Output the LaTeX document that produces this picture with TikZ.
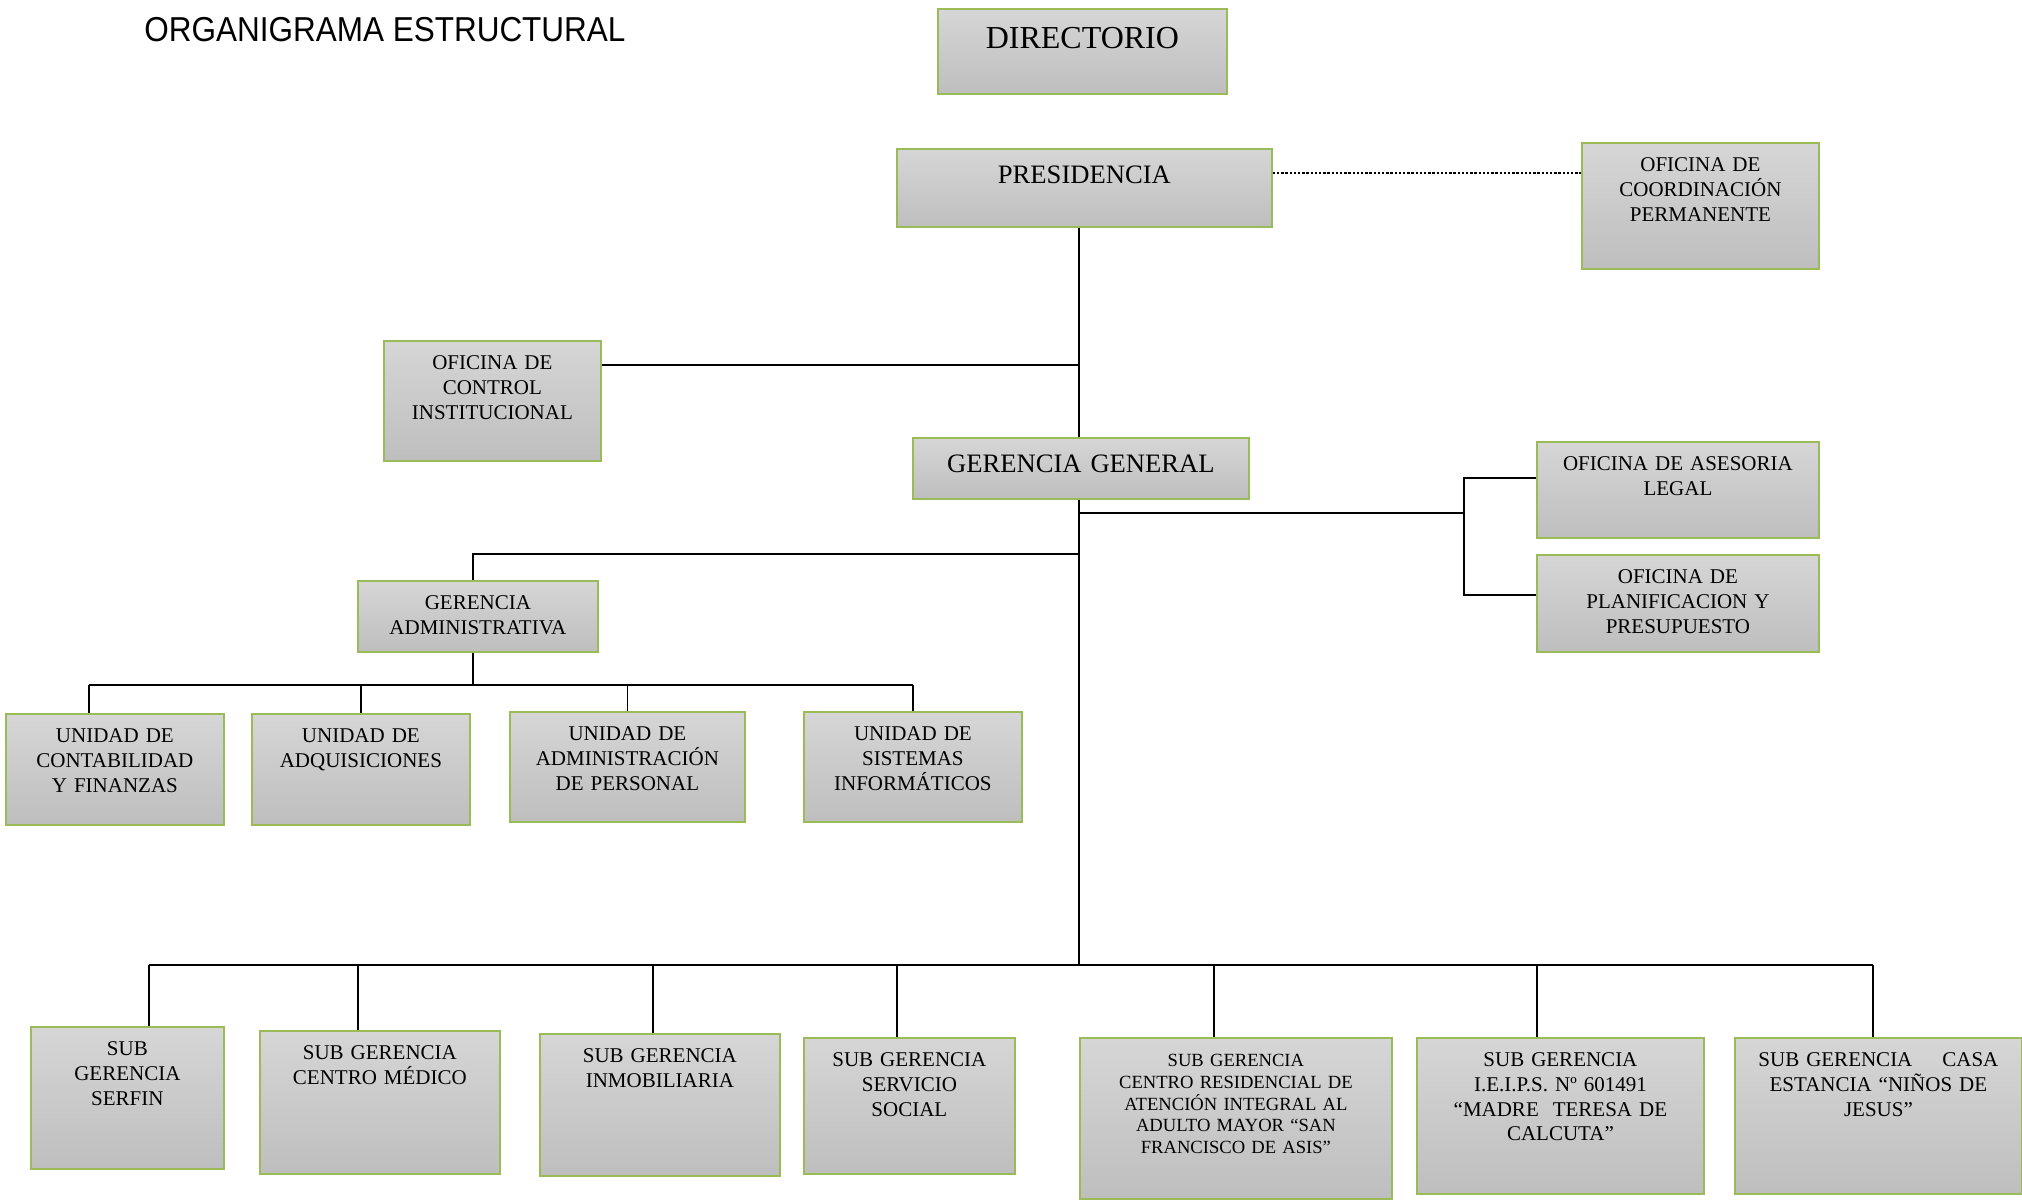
\documentclass[tikz,border=0pt]{standalone}
\usepackage{fontspec}
\setmainfont{Liberation Serif}
\newfontfamily\titulofuente[FakeStretch=0.91]{Liberation Sans}
\usepackage{tikz}

\definecolor{verdeborde}{HTML}{9BBB59}
\definecolor{grisclaro}{HTML}{D6D6D6}
\definecolor{grisoscuro}{HTML}{BEBEBE}

\tikzset{
	cajabase/.style={draw=verdeborde, line width=0.9pt, top color=grisclaro, bottom color=grisoscuro,
		anchor=north west, inner xsep=0pt, inner ysep=3pt, align=center},
	caja/.style 2 args={cajabase, font=\fontsize{10.5}{12.3}\selectfont, text width=#1*0.5pt,
		text height=11.5pt, text depth=#2*0.5pt-17.5pt},
	cajamayor/.style 2 args={cajabase, font=\fontsize{13.3}{16}\selectfont, text width=#1*0.5pt,
		text height=14.5pt, text depth=#2*0.5pt-20.5pt},
	linea/.style={line width=0.8pt},
	bus/.style={line width=1.2pt},
	punteado/.style={line width=1.2pt, dash pattern=on 1.2pt off 0.9pt}
}

\begin{document}
\begin{tikzpicture}[x=0.5pt, y=-0.5pt]
	\useasboundingbox (0,0) rectangle (2022,1200);

	\node[anchor=west, inner sep=0pt, font=\titulofuente\fontsize{17.3}{20}\selectfont] (titulo) at (144,30) {ORGANIGRAMA ESTRUCTURAL};

	% direccion
	\node[cajamayor={289}{85}, font=\fontsize{16}{19}\selectfont, text height=16.9pt, text depth=19.6pt] (dir) at (937,8) {DIRECTORIO};
	\node[cajamayor={375}{78}] (pres) at (896,148)   {PRESIDENCIA};
	\node[caja={237}{126}] (coord) at (1581,142)     {OFICINA DE\\COORDINACIÓN\\PERMANENTE};
	\node[caja={217}{120}] (control) at (383,340)    {OFICINA DE\\CONTROL\\INSTITUCIONAL};
	\node[cajamayor={336}{61}] (gg) at (912,437)     {GERENCIA GENERAL};
	\node[caja={282}{96}] (legal) at (1536,441)      {OFICINA DE ASESORIA\\LEGAL};
	\node[caja={282}{97}] (planif) at (1536,554)     {OFICINA DE\\PLANIFICACION Y\\PRESUPUESTO};

	% gerencia administrativa
	\node[caja={240}{71}] (ga) at (357,580)          {GERENCIA\\ADMINISTRATIVA};
	\node[caja={218}{111}] (cont) at (5,713)         {UNIDAD DE\\CONTABILIDAD\\Y FINANZAS};
	\node[caja={218}{111}] (adq) at (251,713)        {UNIDAD DE\\ADQUISICIONES};
	\node[caja={235}{110}] (pers) at (509,711)       {UNIDAD DE\\ADMINISTRACIÓN\\DE PERSONAL};
	\node[caja={218}{110}] (sist) at (803,711)       {UNIDAD DE\\SISTEMAS\\INFORMÁTICOS};

	% sub gerencias
	\node[caja={193}{142}] (serfin) at (30,1026)     {SUB\\GERENCIA\\SERFIN};
	\node[caja={240}{143}] (cmed) at (259,1030)      {SUB GERENCIA\\CENTRO MÉDICO};
	\node[caja={240}{142}] (inmob) at (539,1033)     {SUB GERENCIA\\INMOBILIARIA};
	\node[caja={211}{136}] (serv) at (803,1037)      {SUB GERENCIA\\SERVICIO\\SOCIAL};
	\node[caja={312}{161}, font=\fontsize{9.3}{10.8}\selectfont] (cres) at (1079,1037) {SUB GERENCIA\\CENTRO RESIDENCIAL DE\\ATENCIÓN INTEGRAL AL\\ADULTO MAYOR “SAN\\FRANCISCO DE ASIS”};
	\node[caja={287}{156}] (ieips) at (1416,1037)    {SUB GERENCIA\\I.E.I.P.S. Nº 601491\\“MADRE\ \ TERESA DE\\CALCUTA”};
	\node[caja={287}{156}] (casa) at (1734,1037)     {SUB GERENCIA\hspace{15pt}CASA\\ESTANCIA “NIÑOS DE\\JESUS”};

	\coordinate (tronco) at (1079,965);
	\coordinate (ramader) at (1464,513);
	\coordinate (ramaizq) at (1079,554);
	\coordinate (busuni) at (0,685);

	% tronco
	\draw[linea] (pres.south -| tronco) -- (gg.north -| tronco);
	\draw[linea] (gg.south -| tronco) -- (tronco);
	\draw[punteado] ([yshift=7.5pt]pres.east) -- ([yshift=7.5pt]pres.east -| coord.west);
	\draw[linea] ([yshift=18pt]control.east) -- ([yshift=18pt]control.east -| tronco);
	\draw[linea] (ramader -| tronco) -- (ramader);
	\draw[linea] ([yshift=6pt]legal.west) -| (ramader) |- ([yshift=4.25pt]planif.west);
	\draw[linea] (ramaizq) -| ([xshift=-2.5pt]ga.north);

	% unidades
	\draw[linea] ([xshift=-2.5pt]ga.south) -- ([xshift=-2.5pt]ga.south |- busuni);
	\draw[bus] ([xshift=-13pt]cont.north |- busuni) -- (sist.north |- busuni);
	\draw[linea] ([xshift=-13pt]cont.north) -- ([xshift=-13pt]cont.north |- busuni);
	\draw[linea] (adq.north) -- (adq.north |- busuni);
	\draw[linea] (pers.north) -- (pers.north |- busuni);
	\draw[linea] (sist.north) -- (sist.north |- busuni);

	% sub gerencias
	\draw[bus] ([xshift=10.75pt]serfin.north |- tronco) -- ([xshift=-2.75pt]casa.north |- tronco);
	\draw[linea] ([xshift=10.75pt]serfin.north) -- ([xshift=10.75pt]serfin.north |- tronco);
	\draw[linea] ([xshift=-11pt]cmed.north) -- ([xshift=-11pt]cmed.north |- tronco);
	\draw[linea] ([xshift=-3.5pt]inmob.north) -- ([xshift=-3.5pt]inmob.north |- tronco);
	\draw[linea] ([xshift=-6.25pt]serv.north) -- ([xshift=-6.25pt]serv.north |- tronco);
	\draw[linea] ([xshift=-11pt]cres.north) -- ([xshift=-11pt]cres.north |- tronco);
	\draw[linea] ([xshift=-11.75pt]ieips.north) -- ([xshift=-11.75pt]ieips.north |- tronco);
	\draw[linea] ([xshift=-2.75pt]casa.north) -- ([xshift=-2.75pt]casa.north |- tronco);

\end{tikzpicture}
\end{document}
